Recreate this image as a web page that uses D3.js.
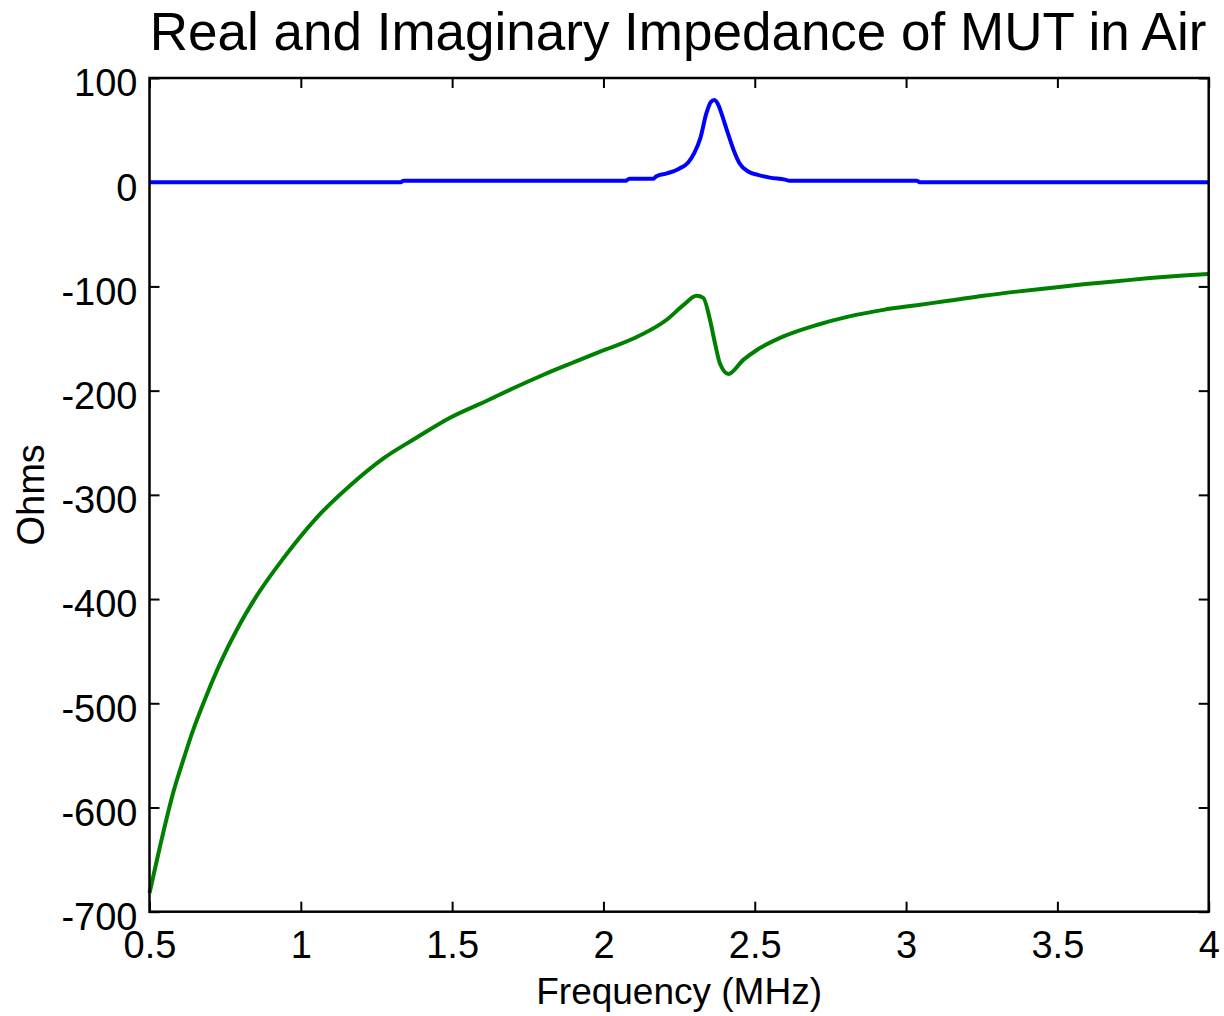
<!DOCTYPE html>
<html>
<head>
<meta charset="utf-8">
<script src="https://cdn.jsdelivr.net/npm/d3@7"></script>
<style>
  html, body { margin: 0; padding: 0; background: #fff; }
  svg text { font-family: "Liberation Sans", Arial, sans-serif; fill: #000; }
</style>
</head>
<body>
<svg id="chart" width="1224" height="1016"></svg>
<script>
// ---- Data ----
const titleText = "Real and Imaginary Impedance of MUT in Air";
const xLabel = "Frequency (MHz)";
const yLabel = "Ohms";
const xTicks = [0.5, 1, 1.5, 2, 2.5, 3, 3.5, 4];
const xTickLabels = ["0.5", "1", "1.5", "2", "2.5", "3", "3.5", "4"];
const yTicks = [100, 0, -100, -200, -300, -400, -500, -600, -700];
const yTickLabels = ["100", "0", "-100", "-200", "-300", "-400", "-500", "-600", "-700"];

// Real part (blue)
const realFreq = [0.5, 1.33, 1.34, 2.075, 2.085, 2.165, 2.175, 2.21, 2.25, 2.28, 2.30, 2.32, 2.34, 2.355, 2.366, 2.38, 2.39, 2.41, 2.43, 2.45, 2.48, 2.51, 2.55, 2.60, 2.615, 3.035, 3.045, 4.0];
const realVal  = [0, 0, 1.5, 1.5, 3.4, 3.4, 5.7, 8.5, 13, 19, 28, 42, 66, 77, 79, 74, 66, 48, 31, 18, 10, 7, 4.4, 2.5, 1.5, 1.5, 0, 0];

// Imaginary part (green)
const imagFreq = [0.5, 0.535, 0.579, 0.612, 0.645, 0.689, 0.733, 0.793, 0.854, 0.942, 1.052, 1.163, 1.273, 1.383, 1.493, 1.62, 1.7, 1.8, 1.9, 1.989, 2.099, 2.209, 2.264, 2.308, 2.33, 2.352, 2.369, 2.385, 2.413, 2.462, 2.507, 2.595, 2.705, 2.809, 2.925, 3.035, 3.145, 3.255, 3.366, 3.476, 3.586, 3.696, 3.806, 3.916, 4.0];
const imagVal  = [-682, -637, -585, -554, -525, -492, -462, -427, -397, -361, -322, -291, -265, -245, -226, -209, -198, -185, -173, -162.5, -150, -132, -118, -109, -111, -132, -155, -174, -184, -170.5, -161, -148, -137, -129, -122.5, -118, -113.6, -109, -105, -101.5, -98, -95, -92, -89.6, -88];

// ---- Layout ----
const W = 1224, H = 1016;
const m = { left: 149.5, top: 78, right: 1224 - 1208.7, bottom: 1016 - 911.7 };
const iw = W - m.left - m.right, ih = H - m.top - m.bottom;

const svg = d3.select("#chart");
const x = d3.scaleLinear().domain([0.5, 4]).range([0, iw]);
const y = d3.scaleLinear().domain([-700, 100]).range([ih, 0]);

const g = svg.append("g").attr("transform", `translate(${m.left},${m.top})`);

// ticks (inward, on all four sides)
const tickLen = 10;
const fmtX = d => xTickLabels[xTicks.indexOf(d)];
const fmtY = d => yTickLabels[yTicks.indexOf(d)];

const axB = g.append("g").attr("transform", `translate(0,${ih})`)
  .call(d3.axisBottom(x).tickValues(xTicks).tickFormat(fmtX).tickSizeInner(-tickLen).tickSizeOuter(0));
const axT = g.append("g")
  .call(d3.axisTop(x).tickValues(xTicks).tickFormat("").tickSizeInner(-tickLen).tickSizeOuter(0));
const axL = g.append("g")
  .call(d3.axisLeft(y).tickValues(yTicks).tickFormat(fmtY).tickSizeInner(-tickLen).tickSizeOuter(0));
const axR = g.append("g").attr("transform", `translate(${iw},0)`)
  .call(d3.axisRight(y).tickValues(yTicks).tickFormat("").tickSizeInner(-tickLen).tickSizeOuter(0));

[axB, axT, axL, axR].forEach(a => {
  a.select(".domain").remove();
  a.selectAll(".tick line").attr("stroke", "#000").attr("stroke-width", 2);
  a.selectAll(".tick text").attr("font-size", 38).attr("font-family", "Liberation Sans, Arial, sans-serif").attr("fill", "#000");
});
axB.selectAll(".tick text").attr("dy", "0.71em").attr("y", 19);
axL.selectAll(".tick text").attr("dy", "0.47em").attr("x", -12);

// lines
const line = d3.line().x(d => x(d[0])).y(d => y(d[1])).curve(d3.curveMonotoneX);
const realData = realFreq.map((f, i) => [f, realVal[i]]);
const imagData = imagFreq.map((f, i) => [f, imagVal[i]]);

g.append("path").datum(realData).attr("d", line)
  .attr("fill", "none").attr("stroke", "#0000ff").attr("stroke-width", 4).attr("stroke-linejoin", "round");
g.append("path").datum(imagData).attr("d", line)
  .attr("fill", "none").attr("stroke", "#008000").attr("stroke-width", 4).attr("stroke-linejoin", "round");

// box
g.append("rect").attr("x", 0).attr("y", 0).attr("width", iw).attr("height", ih)
  .attr("fill", "none").attr("stroke", "#000").attr("stroke-width", 2.5);

// title & labels
svg.append("text").attr("x", m.left + iw / 2 - 1).attr("y", 50)
  .attr("text-anchor", "middle").attr("font-size", 53).text(titleText);
svg.append("text").attr("x", m.left + iw / 2).attr("y", 1004)
  .attr("text-anchor", "middle").attr("font-size", 37).text(xLabel);
svg.append("text").attr("transform", `translate(44,${m.top + ih / 2}) rotate(-90)`)
  .attr("text-anchor", "middle").attr("font-size", 38).text(yLabel);
</script>
</body>
</html>
